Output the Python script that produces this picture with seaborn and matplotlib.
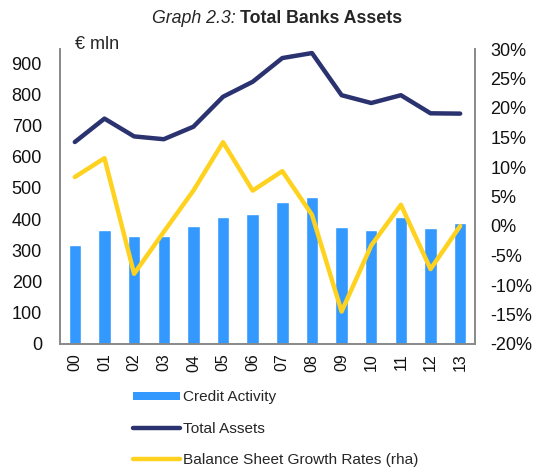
import pandas as pd
import seaborn as sns
import matplotlib.pyplot as plt
from matplotlib.patches import Patch
from matplotlib.lines import Line2D

# data
years = ['00', '01', '02', '03', '04', '05', '06', '07', '08', '09', '10', '11', '12', '13']
credit_activity = [316, 364, 346, 347, 377, 406, 418, 456, 470, 374, 364, 406, 370, 387]
total_assets = [647, 722, 665, 656, 696, 792, 840, 916, 932, 797, 772, 797, 739, 738]
growth_rates = [8.3, 11.5, -8.1, -1.0, 6.0, 14.2, 6.0, 9.3, 1.9, -14.5, -3.3, 3.6, -7.3, 0.0]

df = pd.DataFrame({'year': years, 'credit': credit_activity,
                   'assets': total_assets, 'growth': growth_rates})
df['pos'] = range(len(df))

c_bar, c_assets, c_growth = '#3399FF', '#2B3270', '#FFD21F'
fs = 13

sns.set_theme(style='white')
plt.rcParams['font.family'] = ['Liberation Sans', 'DejaVu Sans']

fig = plt.figure(figsize=(5.34, 4.67), dpi=100)
ax = fig.add_axes([60 / 534, 1 - 344 / 467, 415 / 534, 295 / 467])

sns.barplot(data=df, x='year', y='credit', color=c_bar, width=0.42,
            saturation=1, ax=ax)
sns.lineplot(data=df, x='pos', y='assets', color=c_assets, linewidth=3.2, ax=ax)
ax.set_xlim(-0.5, len(years) - 0.5)
ax.set_ylim(0, 945)
ax.set_yticks(range(0, 901, 100))
ax.set_xticks(range(len(years)))
ax.set_xticklabels(years, rotation=90)
ax.set_xlabel('')
ax.set_ylabel('')

ax2 = ax.twinx()
sns.lineplot(data=df, x='pos', y='growth', color=c_growth, linewidth=3.2, ax=ax2)
ax2.set_ylim(-20, 30)
ax2.set_yticks(range(-20, 31, 5))
ax2.set_yticklabels([f'{t}%' for t in range(-20, 31, 5)])
ax2.set_ylabel('')
ax2.set_xlim(-0.5, len(years) - 0.5)

for a in (ax, ax2):
    a.tick_params(length=0, labelsize=fs, colors='#111111')
    a.spines['top'].set_visible(False)
    for s in ('left', 'right', 'bottom'):
        a.spines[s].set_color('#888888')
        a.spines[s].set_linewidth(1.2)
ax.tick_params(axis='y', pad=13)
ax.tick_params(axis='x', pad=7, labelsize=11.5)
ax2.tick_params(axis='y', pad=11)

ax.text(0.036, 0.985, '€ mln', transform=ax.transAxes, fontsize=fs,
        ha='left', va='bottom')

fig.text(0.45, 0.96, 'Graph 2.3: ', style='italic', fontsize=12.8,
         ha='right', va='center')
fig.text(0.45, 0.96, 'Total Banks Assets', fontweight='bold', fontsize=12.8,
         ha='left', va='center')

handles = [Patch(facecolor=c_bar, edgecolor='none'),
           Line2D([], [], color=c_assets, linewidth=3.2),
           Line2D([], [], color=c_growth, linewidth=3.2)]
labels = ['Credit Activity', 'Total Assets', 'Balance Sheet Growth Rates (rha)']
fig.legend(handles, labels, loc='upper left', bbox_to_anchor=(0.249, 0.164),
           frameon=False, fontsize=11.1, handlelength=3.05, handleheight=0.5,
           handletextpad=0.2, labelspacing=1.13, borderaxespad=0, borderpad=0)

plt.savefig('out.png', dpi=100)
